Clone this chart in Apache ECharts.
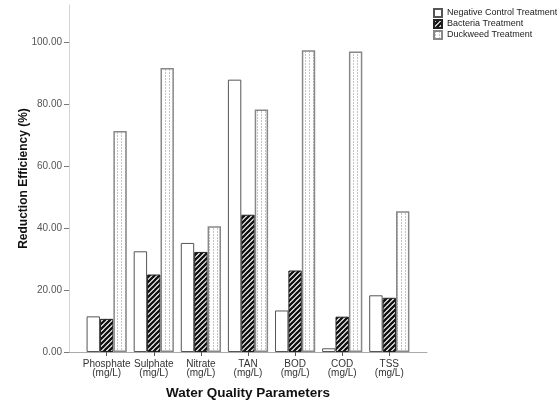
<!DOCTYPE html>
<html>
<head>
<meta charset="utf-8">
<script src="https://cdn.jsdelivr.net/npm/echarts@6/dist/echarts.min.js"></script>
<style>html,body{margin:0;padding:0;background:#fff}#c{width:557px;height:402px}</style>
</head>
<body>
<div id="c"></div>
<script>
var categories = ['Phosphate', 'Sulphate', 'Nitrate', 'TAN', 'BOD', 'COD', 'TSS'];
var unitLabel = '(mg/L)';
var negativeControl = [11.5, 32.5, 35.2, 87.9, 13.4, 1.2, 18.3];
var bacteria = [10.7, 25.0, 32.3, 44.3, 26.3, 11.4, 17.5];
var duckweed = [71.3, 91.7, 40.6, 78.3, 97.4, 97.0, 45.4];
var seriesNames = ['Negative Control Treatment', 'Bacteria Treatment', 'Duckweed Treatment'];
var yTicks = [0, 20, 40, 60, 80, 100];

function hatchPattern() {
  var c = document.createElement('canvas');
  c.width = 5; c.height = 5;
  var g = c.getContext('2d');
  g.fillStyle = '#fff'; g.fillRect(0, 0, 5, 5);
  g.strokeStyle = '#111'; g.lineWidth = 2.3;
  g.beginPath();
  g.moveTo(-1, 6); g.lineTo(6, -1);
  g.moveTo(-3, 3); g.lineTo(3, -3);
  g.moveTo(2, 8); g.lineTo(8, 2);
  g.stroke();
  return {image: c, repeat: 'repeat'};
}
function dotPattern() {
  var c = document.createElement('canvas');
  c.width = 4; c.height = 3;
  var g = c.getContext('2d');
  g.fillStyle = '#fff'; g.fillRect(0, 0, 4, 3);
  g.fillStyle = '#c4c4c4'; g.fillRect(1, 0, 1, 2);
  return {image: c, repeat: 'repeat'};
}
function pairs(arr) { return arr.map(function (v, i) { return [i, v]; }); }

var chart = echarts.init(document.getElementById('c'), null, {renderer: 'canvas'});
var font = 'Liberation Sans, Arial, sans-serif';
chart.setOption({
  animation: false,
  backgroundColor: '#fff',
  textStyle: {fontFamily: font},
  grid: {left: 69, right: 130, top: 5, bottom: 50, containLabel: false, outerBoundsMode: 'none'},
  legend: {
    orient: 'vertical', left: 428, top: 3, itemWidth: 8, itemHeight: 8, itemGap: 1,
    icon: 'rect',
    textStyle: {fontSize: 9, lineHeight: 10, color: '#222', fontFamily: font},
    data: seriesNames
  },
  xAxis: {
    type: 'value', min: -0.8, max: 6.8,
    name: 'Water Quality Parameters', nameLocation: 'middle', nameGap: 34,
    nameTextStyle: {fontSize: 13.5, fontWeight: 'bold', color: '#111', fontFamily: font},
    axisLine: {show: true, onZero: false, lineStyle: {color: '#aaa', width: 1}},
    axisTick: {show: true, length: 4, lineStyle: {color: '#555'}, customValues: [0, 1, 2, 3, 4, 5, 6]},
    axisLabel: {
      customValues: [0, 1, 2, 3, 4, 5, 6], fontSize: 10, lineHeight: 9.5, color: '#333', margin: 7,
      formatter: function (v) { return categories[Math.round(v)] + '\n' + unitLabel; }
    },
    splitLine: {show: false}
  },
  yAxis: {
    type: 'value', min: 0, max: 112,
    name: 'Reduction Efficiency (%)', nameLocation: 'middle', nameGap: 39, nameMoveOverlap: false,
    nameTextStyle: {fontSize: 12, fontWeight: 'bold', color: '#111', fontFamily: font},
    axisLine: {show: true, onZero: false, lineStyle: {color: '#d4d4d4', width: 1}},
    axisTick: {show: true, length: 5, lineStyle: {color: '#777'}, customValues: yTicks},
    axisLabel: {
      customValues: yTicks, fontSize: 10, color: '#555', margin: 7,
      formatter: function (v) { return v.toFixed(2); }
    },
    splitLine: {show: false}
  },
  series: [
    {name: seriesNames[0], type: 'bar', data: pairs(negativeControl), barWidth: 13.4, barGap: '0%',
     itemStyle: {color: '#fff', borderColor: '#555', borderWidth: 1}},
    {name: seriesNames[1], type: 'bar', data: pairs(bacteria), barWidth: 13.4, barGap: '0%',
     itemStyle: {color: hatchPattern(), borderColor: '#222', borderWidth: 1}},
    {name: seriesNames[2], type: 'bar', data: pairs(duckweed), barWidth: 13.4, barGap: '0%',
     itemStyle: {color: dotPattern(), borderColor: '#888', borderWidth: 1.5}}
  ]
});
</script>
</body>
</html>
